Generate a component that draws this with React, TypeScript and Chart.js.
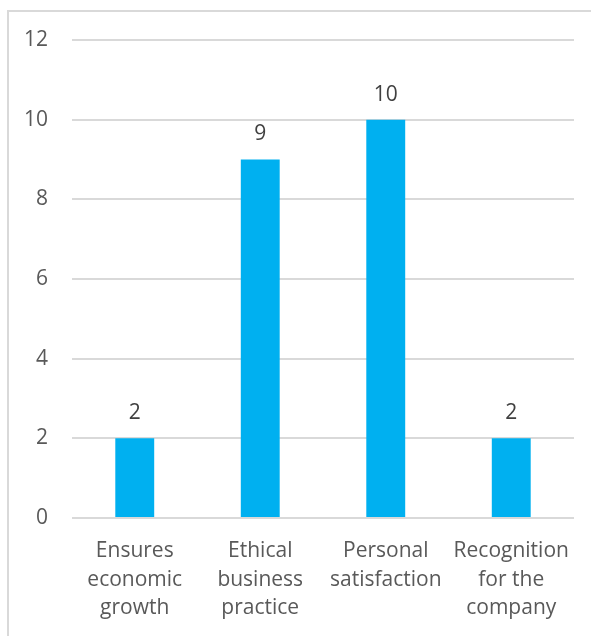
import React, { useEffect, useRef } from "react";
import { Chart, registerables } from "chart.js";

Chart.register(...registerables);

const categories: string[][] = [
  ["Ensures", "economic", "growth"],
  ["Ethical", "business", "practice"],
  ["Personal", "satisfaction"],
  ["Recognition", "for the", "company"],
];
const values: number[] = [2, 9, 10, 2];
const yMin = 0;
const yMax = 12;
const yStep = 2;

const FONT = "'Open Sans', 'Noto Sans', sans-serif";

const dataLabelPlugin = {
  id: "dataLabels",
  afterDatasetsDraw(chart: any) {
    const ctx = chart.ctx;
    const meta = chart.getDatasetMeta(0);
    ctx.save();
    ctx.font = `21px ${FONT}`;
    ctx.fillStyle = "#404040";
    ctx.textAlign = "center";
    ctx.textBaseline = "middle";
    meta.data.forEach((bar: any, i: number) => {
      ctx.fillText(String(values[i]), bar.x, bar.y - 25);
    });
    ctx.restore();
  },
};

export default function App() {
  const ref = useRef<HTMLCanvasElement>(null);
  useEffect(() => {
    if (!ref.current) return;
    const chart = new Chart(ref.current, {
      type: "bar",
      data: {
        labels: categories,
        datasets: [
          {
            data: values,
            backgroundColor: "#00B0F0",
            borderWidth: 0,
            barPercentage: 0.31,
            categoryPercentage: 1,
          },
        ],
      },
      options: {
        responsive: false,
        animation: false,
        maintainAspectRatio: false,
        layout: { padding: { left: 0, right: 17, top: 40, bottom: 0 } },
        plugins: {
          legend: { display: false },
          tooltip: { enabled: false },
        },
        scales: {
          x: {
            grid: { display: false, drawTicks: false },
            border: { display: false },
            ticks: {
              color: "#595959",
              font: { family: FONT, size: 21, lineHeight: 1.35 },
              padding: 19,
              maxRotation: 0,
              autoSkip: false,
            },
            afterFit(axis: any) {
              axis.height = 118;
            },
          },
          y: {
            min: yMin,
            max: yMax,
            grid: { color: "#d9d9d9", lineWidth: 2, drawTicks: false },
            border: { display: false },
            ticks: {
              stepSize: yStep,
              color: "#595959",
              font: { family: FONT, size: 21 },
              padding: 24,
            },
            afterFit(axis: any) {
              axis.width = 72;
            },
          },
        },
      },
      plugins: [dataLabelPlugin],
    });
    return () => chart.destroy();
  }, []);
  return (
    <div style={{ position: "absolute", left: 0, top: 0, width: 591, height: 636, overflow: "hidden", background: "#fff" }}>
      <div
        style={{
          position: "absolute",
          left: 7,
          top: 10,
          width: 700,
          height: 700,
          border: "2px solid #d9d9d9",
          boxSizing: "border-box",
        }}
      />
      <canvas ref={ref} width={591} height={636} style={{ position: "absolute", left: 0, top: 0 }} />
    </div>
  );
}
